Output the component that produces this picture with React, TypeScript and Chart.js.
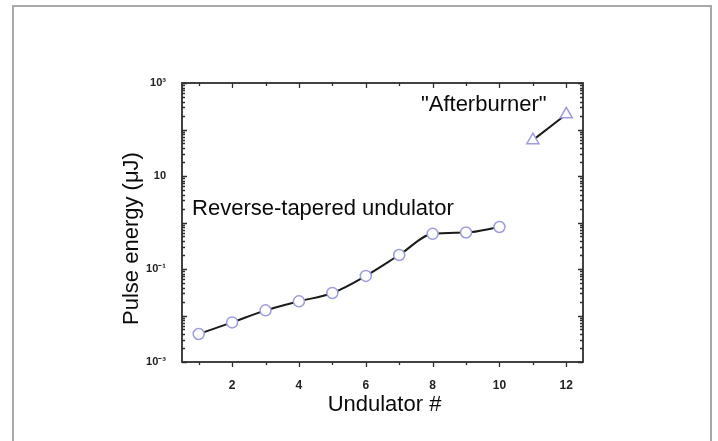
import React, { useEffect, useRef } from 'react';
import { Chart, registerables } from 'chart.js';

Chart.register(...registerables);

// ---- Data ----
const reverseTaperedUndulators = [1, 2, 3, 4, 5, 6, 7, 8, 9, 10];
const reverseTaperedEnergy = [0.004, 0.0071, 0.0129, 0.0202, 0.0305, 0.071, 0.2, 0.57, 0.61, 0.8];
const afterburnerUndulators = [11, 12];
const afterburnerEnergy = [59, 212];

// ---- Axes ----
const xMin = 0.5;
const xMax = 12.5;
const xTickValues = [1, 2, 3, 4, 5, 6, 7, 8, 9, 10, 11, 12];
const xLabelValues = [2, 4, 6, 8, 10, 12];
const yMin = 0.001;
const yMax = 1000;
const yTickValues = [0.001, 0.1, 10, 1000];
const yTickLabels = ['10⁻³', '10⁻¹', '10', '10³'];
const yDecades = [-3, -2, -1, 0, 1, 2];
const yMantissas = [1, 2, 3, 4, 5, 6, 7, 8, 9];

// ---- Texts ----
const xTitle = 'Undulator #';
const yTitle = 'Pulse energy (μJ)';
const reverseLabel = 'Reverse-tapered undulator';
const afterburnerLabel = '"Afterburner"';
const reverseLabelAnchor = { x: 0.8, y: 1.95 };
const afterburnerLabelAnchor = { x: 7.65, y: 336 };

const FONT = "'Liberation Sans', Arial, sans-serif";

function isNear(a: number, b: number) {
  return Math.abs(Math.log10(a) - Math.log10(b)) < 1e-6;
}

const decorPlugin = {
  id: 'decor',
  beforeDatasetsDraw(chart: any) {
    const { ctx, chartArea: a, scales } = chart;
    const xs = scales.x;
    const ys = scales.y;
    ctx.save();
    ctx.strokeStyle = '#2e2e2e';
    ctx.lineWidth = 1.8;
    ctx.strokeRect(a.left, a.top, a.right - a.left, a.bottom - a.top);
    ctx.lineWidth = 1.3;
    ctx.beginPath();
    xTickValues.forEach((v) => {
      const px = Math.round(xs.getPixelForValue(v)) + 0.5;
      const major = xLabelValues.includes(v);
      const len = major ? 5 : 3;
      ctx.moveTo(px, a.bottom);
      ctx.lineTo(px, a.bottom + len);
      ctx.moveTo(px, a.top);
      ctx.lineTo(px, a.top + len);
    });
    ys.ticks.forEach((t: any) => {
      const v = t.value;
      const py = Math.round(ys.getPixelForValue(v)) + 0.5;
      const major = Math.abs(Math.log10(v) - Math.round(Math.log10(v))) < 1e-6;
      const len = major ? 5 : 3;
      ctx.moveTo(a.left, py);
      ctx.lineTo(a.left + len, py);
      ctx.moveTo(a.right, py);
      ctx.lineTo(a.right - len, py);
    });
    ctx.stroke();
    ctx.restore();
  },
  afterDraw(chart: any) {
    const { ctx, chartArea: a, scales } = chart;
    const xs = scales.x;
    const ys = scales.y;
    ctx.save();
    ctx.fillStyle = '#0a0a0a';
    ctx.font = `22px ${FONT}`;
    ctx.textBaseline = 'middle';
    ctx.textAlign = 'left';
    ctx.fillText(reverseLabel, xs.getPixelForValue(reverseLabelAnchor.x), ys.getPixelForValue(reverseLabelAnchor.y));
    ctx.fillText(afterburnerLabel, xs.getPixelForValue(afterburnerLabelAnchor.x), ys.getPixelForValue(afterburnerLabelAnchor.y));
    ctx.textAlign = 'center';
    ctx.fillText(xTitle, (a.left + a.right) / 2 + 2, a.bottom + 43);
    ctx.translate(a.left - 50, (a.top + a.bottom) / 2 + 16);
    ctx.rotate(-Math.PI / 2);
    ctx.fillText(yTitle, 0, 0);
    ctx.restore();
  },
};

export default function App() {
  const canvasRef = useRef<HTMLCanvasElement | null>(null);

  useEffect(() => {
    document.body.style.margin = '0';
    document.body.style.overflow = 'hidden';
    const canvas = canvasRef.current;
    if (!canvas) return;
    const chart = new Chart(canvas, {
      type: 'line',
      data: {
        datasets: [
          {
            label: 'Reverse-tapered undulator',
            data: reverseTaperedUndulators.map((x, i) => ({ x, y: reverseTaperedEnergy[i] })),
            borderColor: '#1a1a1a',
            borderWidth: 2,
            cubicInterpolationMode: 'monotone',
            pointStyle: 'circle',
            pointRadius: 5.5,
            pointBorderColor: '#9c9ce2',
            pointBackgroundColor: '#ffffff',
            pointBorderWidth: 1.5,
            clip: false,
          },
          {
            label: 'Afterburner',
            data: afterburnerUndulators.map((x, i) => ({ x, y: afterburnerEnergy[i] })),
            borderColor: '#1a1a1a',
            borderWidth: 2,
            tension: 0,
            pointStyle: 'triangle',
            pointRadius: 7,
            pointBorderColor: '#9c9ce2',
            pointBackgroundColor: '#ffffff',
            pointBorderWidth: 1.5,
            clip: false,
          },
        ],
      } as any,
      options: {
        responsive: false,
        animation: false,
        layout: { padding: { left: 0, top: 83, right: 135, bottom: 0 } },
        plugins: { legend: { display: false }, tooltip: { enabled: false }, title: { display: false } },
        scales: {
          x: {
            type: 'linear',
            min: xMin,
            max: xMax,
            grid: { display: false },
            border: { display: false },
            afterFit: (s: any) => {
              s.height = 79;
            },
            afterBuildTicks: (s: any) => {
              s.ticks = xTickValues.map((v) => ({ value: v }));
            },
            ticks: {
              autoSkip: false,
              maxRotation: 0,
              padding: 8,
              color: '#222222',
              font: { family: FONT, size: 12, weight: 'bold' },
              callback: (v: any) => (xLabelValues.includes(Number(v)) ? String(v) : ''),
            },
          },
          y: {
            type: 'logarithmic',
            min: yMin,
            max: yMax,
            grid: { display: false },
            border: { display: false },
            afterFit: (s: any) => {
              s.width = 182;
            },
            afterBuildTicks: (s: any) => {
              const t: any[] = [];
              yDecades.forEach((e) => yMantissas.forEach((m) => t.push({ value: m * Math.pow(10, e) })));
              t.push({ value: yMax });
              s.ticks = t;
            },
            ticks: {
              autoSkip: false,
              padding: 8,
              color: '#222222',
              font: { family: FONT, size: 11, weight: 'bold' },
              callback: (v: any) => {
                const idx = yTickValues.findIndex((t) => isNear(t, Number(v)));
                return idx >= 0 ? yTickLabels[idx] : '';
              },
            },
          },
        },
      },
      plugins: [decorPlugin],
    } as any);
    return () => chart.destroy();
  }, []);

  return (
    <div style={{ position: 'absolute', left: 0, top: 0, width: 718, height: 441, background: '#fff', overflow: 'hidden' }}>
      <div
        style={{
          position: 'absolute',
          left: 12,
          top: 5,
          width: 696,
          height: 436,
          borderTop: '2px solid #a9a9a9',
          borderLeft: '2px solid #a9a9a9',
          borderRight: '2px solid #a9a9a9',
          boxSizing: 'content-box',
        }}
      />
      <canvas ref={canvasRef} width={718} height={441} style={{ position: 'absolute', left: 0, top: 0 }} />
    </div>
  );
}
